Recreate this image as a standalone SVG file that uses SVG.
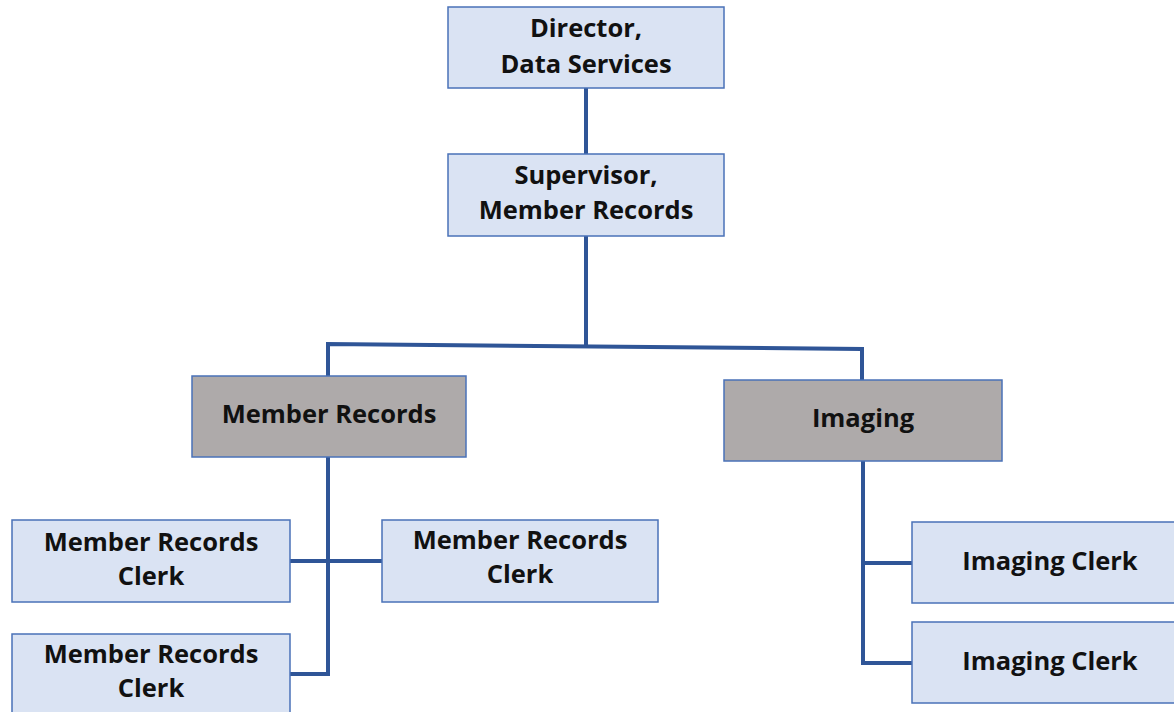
<svg xmlns="http://www.w3.org/2000/svg" width="1174" height="712" viewBox="0 0 1174 712">
  <style>
    .box { fill: #dae3f3; stroke: #4a72b8; stroke-width: 1.5; }
    .dept { fill: #aeaaaa; stroke: #4a72b8; stroke-width: 1.5; }
    .lbl { font-family: "Open Sans", "Liberation Sans", sans-serif; font-weight: bold; font-size: 25.5px; fill: #111; text-anchor: middle; }
    .link { fill: none; stroke: #2f5597; stroke-width: 4; stroke-linejoin: miter; }
  </style>
  <rect width="1174" height="712" fill="#ffffff"/>

  <!-- connectors -->
  <g id="connectors">
    <line class="link" x1="586" y1="88" x2="586" y2="154"/>
    <line class="link" x1="586" y1="236" x2="586" y2="346"/>
    <polyline class="link" points="328,376 328,344 862,349 862,380"/>
    <polyline class="link" points="328,457 328,674 290,674"/>
    <line class="link" x1="290" y1="561" x2="382" y2="561"/>
    <polyline class="link" points="863,461 863,663 912,663"/>
    <line class="link" x1="863" y1="563" x2="912" y2="563"/>
  </g>

  <g id="director">
    <rect class="box" x="448" y="7" width="276" height="81"/>
    <text class="lbl" x="586" y="37">Director,</text>
    <text class="lbl" x="586" y="73">Data Services</text>
  </g>

  <g id="supervisor">
    <rect class="box" x="448" y="154" width="276" height="82"/>
    <text class="lbl" x="586" y="184">Supervisor,</text>
    <text class="lbl" x="586" y="219">Member Records</text>
  </g>

  <g id="member-records">
    <rect class="dept" x="192" y="376" width="274" height="81"/>
    <text class="lbl" x="329" y="423">Member Records</text>
  </g>

  <g id="imaging">
    <rect class="dept" x="724" y="380" width="278" height="81"/>
    <text class="lbl" x="863" y="427">Imaging</text>
  </g>

  <g id="mr-clerk-1">
    <rect class="box" x="12" y="520" width="278" height="82"/>
    <text class="lbl" x="151" y="551">Member Records</text>
    <text class="lbl" x="151" y="585">Clerk</text>
  </g>

  <g id="mr-clerk-2">
    <rect class="box" x="382" y="520" width="276" height="82"/>
    <text class="lbl" x="520" y="549">Member Records</text>
    <text class="lbl" x="520" y="583">Clerk</text>
  </g>

  <g id="mr-clerk-3">
    <rect class="box" x="12" y="634" width="278" height="90"/>
    <text class="lbl" x="151" y="663">Member Records</text>
    <text class="lbl" x="151" y="697">Clerk</text>
  </g>

  <g id="imaging-clerk-1">
    <rect class="box" x="912" y="522" width="270" height="81"/>
    <text class="lbl" x="1050" y="570">Imaging Clerk</text>
  </g>

  <g id="imaging-clerk-2">
    <rect class="box" x="912" y="622" width="270" height="81"/>
    <text class="lbl" x="1050" y="670">Imaging Clerk</text>
  </g>
</svg>
